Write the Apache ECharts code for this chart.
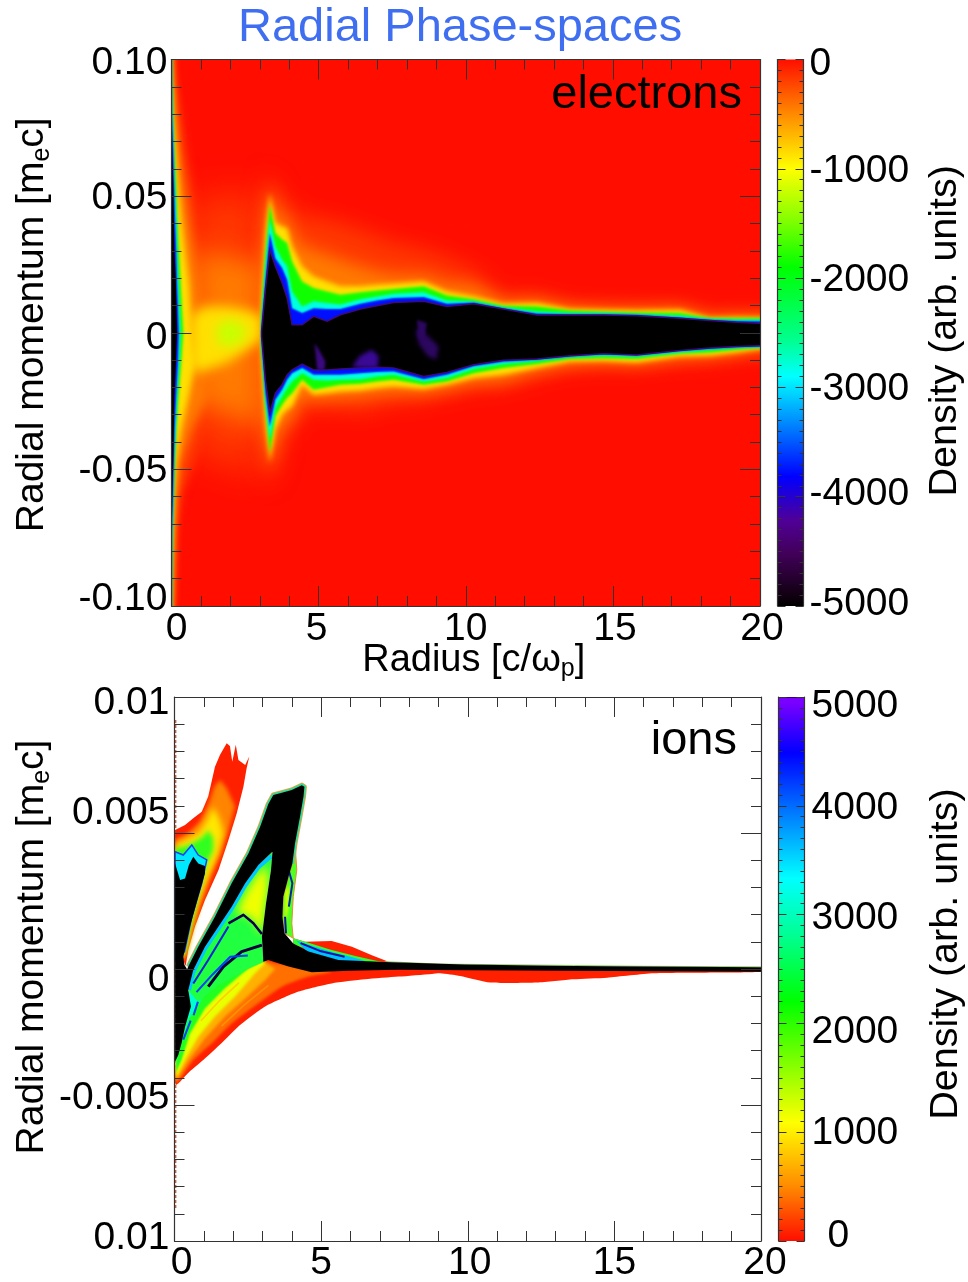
<!DOCTYPE html>
<html><head><meta charset="utf-8">
<style>html,body{margin:0;padding:0;background:#fff}#c{width:968px;height:1282px}</style>
<script src="https://cdn.jsdelivr.net/npm/echarts@6/dist/echarts.min.js"></script>
</head><body><div id="c"></div>
<script>
// ---------- Electrons: contours of density ----------
const rBody=[3.06,3.19,3.34,3.53,3.76,3.93,4.10,4.44,4.83,5.29,5.74,6.42,6.98,7.55,8.57,9.36,10.27,11.28,12.42,13.55,14.68,15.81,17.28,18.3,19.21,20];
const up200=[.0426,.0524,.0609,.0512,.0512,.0487,.0463,.0426,.0426,.0414,.0402,.0377,.0353,.0328,.0304,.0273,.0231,.0133,.0139,.0099,.0096,.0094,.0096,.0062,.0066,.0065];
const up500=[.0280,.0426,.0542,.0463,.0426,.0426,.0377,.0316,.0304,.0286,.0267,.0243,.0225,.0212,.0212,.0182,.0176,.0115,.0121,.0094,.0089,.0087,.0090,.0057,.0062,.0060];
const up1000=[.0109,.0353,.0512,.0402,.0389,.0383,.0316,.0243,.0206,.0188,.0170,.0170,.0176,.0179,.0188,.0151,.0133,.0106,.0109,.0087,.0084,.0082,.0084,.0055,.0057,.0056];
const up2000=[.0072,.0292,.0469,.0365,.0341,.0328,.0261,.0188,.0164,.0151,.0139,.0148,.0155,.0160,.0170,.0136,.0123,.0099,.0096,.0081,.0077,.0074,.0072,.0053,.0053,.0053];
const up3000=[.0042,.0243,.0414,.0316,.0267,.0243,.0151,.0096,.0115,.0109,.0103,.0123,.0133,.0143,.0148,.0118,.0115,.0093,.0078,.0072,.0072,.0068,.0062,.0050,.0048,.0048];
const up4000=[.0023,.0194,.0365,.0273,.0237,.0194,.0090,.0072,.0090,.0087,.0087,.0106,.0118,.0127,.0131,.0106,.0111,.0090,.0070,.0068,.0068,.0066,.0056,.0048,.0043,.0042];
const up5000=[.0005,.0158,.0304,.0243,.0182,.0127,.0029,.0029,.0060,.0042,.0066,.0087,.0099,.0111,.0115,.0096,.0106,.0087,.0065,.0065,.0065,.0062,.0053,.0045,.0038,.0035];
const dn200=[-.0453,-.0502,-.0563,-.0502,-.0404,-.0380,-.0368,-.0282,-.0282,-.0282,-.0282,-.0294,-.0276,-.0258,-.0252,-.0227,-.0203,-.0197,-.0160,-.0129,-.0121,-.0123,-.0103,-.0096,-.0082,-.0065];
const dn500=[-.0233,-.0392,-.0508,-.0416,-.0343,-.0331,-.0319,-.0233,-.0245,-.0243,-.0239,-.0236,-.0227,-.0221,-.0221,-.0209,-.0184,-.0178,-.0142,-.0117,-.0111,-.0115,-.0094,-.0089,-.0077,-.0062];
const dn1000=[-.0093,-.0319,-.0477,-.0355,-.0300,-.0282,-.0270,-.0190,-.0227,-.0221,-.0215,-.0211,-.0203,-.0197,-.0206,-.0190,-.0166,-.0154,-.0129,-.0105,-.0103,-.0109,-.0087,-.0084,-.0072,-.0060];
const dn2000=[-.0068,-.0276,-.0441,-.0306,-.0264,-.0239,-.0221,-.0172,-.0209,-.0199,-.0190,-.0187,-.0178,-.0172,-.0190,-.0178,-.0148,-.0129,-.0114,-.0096,-.0093,-.0096,-.0077,-.0072,-.0062,-.0055];
const dn3000=[-.0050,-.0252,-.0392,-.0276,-.0233,-.0203,-.0178,-.0148,-.0172,-.0175,-.0172,-.0170,-.0160,-.0154,-.0178,-.0166,-.0133,-.0114,-.0103,-.0089,-.0084,-.0087,-.0071,-.0062,-.0055,-.0053];
const dn4000=[-.0032,-.0221,-.0343,-.0245,-.0209,-.0172,-.0148,-.0129,-.0154,-.0154,-.0154,-.0148,-.0144,-.0142,-.0170,-.0154,-.0123,-.0106,-.0099,-.0087,-.0079,-.0083,-.0067,-.0059,-.0053,-.0050];
const dn5000=[-.0013,-.0172,-.0294,-.0221,-.0190,-.0154,-.0136,-.0115,-.0136,-.0136,-.0133,-.0129,-.0126,-.0129,-.0160,-.0145,-.0117,-.0101,-.0096,-.0084,-.0077,-.0081,-.0065,-.0056,-.0050,-.0048];
// wall at r = 0: radius reached by each density level, per momentum
const wallP=[.1,.0915,.0792,.067,.0548,.0426,.0304,.0182,0,-.0111,-.0233,-.0355,-.0477,-.06,-.0722,-.0844,-.0966,-.1];
const wall200=[0,.10,.31,.48,.70,.87,1.1,1.3,1.5,1.5,1.4,1.1,.76,.31,.14,.08,.03,0];
const wall500=[0,.06,.15,.26,.42,.59,.76,.95,1.1,1.2,1.2,.7,.31,.16,.08,.05,.02,0];
const wall1000=[0,.02,.06,.15,.23,.33,.46,.60,.70,.81,.59,.33,.17,.08,.05,.02,.01,0];
const wall2000=[0,.02,.05,.09,.15,.19,.25,.31,.40,.33,.24,.16,.11,.07,.03,.02,0,0];
const wall3000=[0,.01,.03,.07,.11,.16,.19,.24,.31,.27,.19,.14,.09,.06,.03,.01,0,0];
const wall4000=[0,.01,.02,.06,.09,.12,.16,.19,.25,.22,.16,.11,.08,.05,.02,.01,0,0];
const wall5000=[0,0,.01,.03,.06,.08,.10,.15,.19,.15,.10,.08,.06,.03,.01,.01,0,0];
// central glow between the wall and the dense body
const centre200=[[.65,.0475],[1.32,.0499],[2.12,.0499],[3.1,.0512],[3.1,-.0527],[1.89,-.0477],[.98,-.0453],[.65,-.0416]];
const centre500=[[.87,.0304],[1.89,.028],[3.1,.0256],[3.1,-.0355],[1.89,-.0295],[.76,-.0258]];
const centre1000=[[.65,.006],[1.1,.0096],[1.89,.0096],[2.57,.0084],[3.08,.006],[3.08,-.0026],[1.89,-.0111],[.87,-.0148],[.65,-.0111]];
const centre1300=[[1.55,.003],[2.0,.0048],[2.46,.003],[2.5,-.0026],[2.0,-.0052],[1.55,-.0038]];
// sparse purple patches inside the black body
const patchA=[[4.86,-.0038],[5.0,-.006],[5.23,-.0105],[5.2,-.0136],[4.95,-.0136],[4.9,-.008]];
const patchB=[[6.13,-.0125],[6.4,-.0085],[6.8,-.0062],[7.04,-.0085],[7.0,-.0129],[6.5,-.0129]];
const patchC=[[8.29,.0011],[8.5,.0011],[9.08,-.005],[9.0,-.0099],[8.7,-.0085],[8.4,-.004]];
const patchD=[[8.34,.0048],[8.68,.0035],[8.6,-.0012],[8.4,-.0026]];
// ---------- Ions: outlines ----------
const plumeRed=[[.02,.00511],[.36,.00529],[.64,.00554],[.93,.00578],[1.15,.00634],[1.38,.00744],[1.55,.00787],[1.78,.0083],[1.89,.0082],[1.97,.00762],[2.09,.00824],[2.18,.00768],[2.41,.0075],[2.55,.00781],[2.46,.00738],[2.35,.0067],[2.12,.00572],[1.84,.00474],[1.5,.00364],[1.04,.00254],[.7,.00156],[.47,.0007],[.38,.00011],[.3,.00033],[.02,.00033]];
const plumeOrange=[[.02,.00474],[.47,.00499],[.87,.00542],[1.15,.00603],[1.36,.0067],[1.55,.00695],[1.78,.00664],[2.06,.00597],[1.84,.00511],[1.55,.00425],[1.21,.00339],[.87,.00241],[.64,.00156],[.41,.00058],[.3,.00033],[.02,.00033]];
const plumeYellow=[[.02,.00456],[.24,.00468],[.81,.00499],[1.1,.00548],[1.32,.00597],[1.55,.00548],[1.67,.00499],[1.5,.00425],[1.15,.00339],[.81,.00241],[.59,.00156],[.38,.00058],[.02,.00033]];
const plumeGreen=[[.02,.00444],[.36,.0045],[.7,.00468],[.98,.00487],[1.15,.00511],[1.32,.0048],[1.32,.00437],[1.1,.00388],[.81,.00278],[.53,.00156],[.34,.00058],[.02,.00033]];
const plumeCyan=[[.02,.00431],[.3,.00419],[.59,.00456],[.81,.00419],[1.1,.00401],[.93,.00315],[.59,.00192],[.34,.00064],[.02,.00033]];
const fanRed=[[.05,-.00426],[.5,-.00379],[.98,-.00335],[1.6,-.00273],[2.17,-.00212],[3.09,-.00138],[4.23,-.00083],[5.36,-.00053],[6.5,-.00038],[7.64,-.00028],[8.78,-.00018],[9.06,-.00016],[9.74,-.00026],[10.77,-.0005],[12.36,-.0005],[13.6,-.00038],[14.75,-.00032],[16.34,-.00016],[18.6,-.00013],[20,-.0001],[20,.00002],[8,.00006],[5,.00005],[3.5,.0003],[3,.00035],[.6,-.00077],[.05,-.0035]];
const fanOrange=[[.06,-.0042],[.64,-.00335],[1.27,-.00273],[1.95,-.002],[2.86,-.00126],[3.66,-.00065],[4.57,-.00028],[5.36,-.0001],[5,0],[3.5,.0002],[3,.0003],[.5,-.001],[.05,-.0035]];
const fanGold=[[.05,-.0041],[.49,-.00335],[1.04,-.00255],[1.72,-.00175],[2.41,-.00108],[3.09,-.0004],[3.43,0],[3,.0003],[.5,-.001],[.05,-.0035]];
const fanYellow=[[.05,-.004],[.36,-.00335],[.81,-.00249],[1.38,-.00175],[2.06,-.00102],[2.75,-.00016],[3.09,.00021],[3,.0003],[.5,-.001],[.05,-.003]];
const fanGreen=[[.05,-.0038],[.24,-.00335],[.53,-.00237],[1.04,-.00145],[1.72,-.00071],[2.52,.00002],[3.09,.00039],[3,.0004],[.5,-.0008],[.05,-.003]];
const fanCyan=[[.05,-.0034],[.19,-.00279],[.47,-.00187],[.87,-.0012],[1.27,-.00053],[1.95,.00021],[2.9,.0006],[.5,-.0008],[.05,-.003]];
const fanStreakA=[[1.6,-.0021],[2.4,-.0013],[3.2,-.0006]];
const fanStreakB=[[.9,-.0019],[1.5,-.0012],[2.2,-.0005]];
const fanStreakC=[[.3,-.0026],[.55,-.0019]];
const fanStreakD=[[.65,-.0017],[.8,-.0012]];
const fanStreakE=[[1.15,-.00047],[1.85,.00027]];
const bumpRed=[[4.05,.00113],[4.45,.001],[5.36,.00103],[6.05,.00082],[6.73,.00051],[7.3,.00027],[5,.0002],[4.05,.0009]];
const bumpGreen=[[4.05,.00113],[4.6,.00096],[5.3,.00072],[6.2,.00047],[7.0,.00028],[7.2,.00024],[6,.0002],[4.05,.0009]];
const bumpCyan=[[4.15,.00105],[4.7,.00085],[5.4,.00062],[6.0,.00045],[6.5,.0003],[5.5,.00025],[4.6,.00055]];
const bumpStreak=[[4.3,.00095],[5,.00065],[5.8,.00045]];
const bandTopLine=[[7.2,.00027],[9.06,.00018],[11,.00016],[13.6,.00013],[16,.0001],[20,.00008]];
const hollowGreen=[[.47,-.00077],[.64,-.00004],[1.04,.00082],[1.5,.00156],[1.95,.00229],[2.41,.00315],[2.86,.00382],[3.34,.00431],[3.29,.00364],[3.12,.00241],[2.98,.00119],[3.03,.00027],[3.2,.00033],[2.5,0],[1.5,-.0006],[.8,-.0012]];
const hollowYellow=[[3.15,.00385],[3.2,.003],[3.06,.00192],[2.98,.00125],[2.6,.00192],[2.1,.00205],[2.4,.00278],[2.8,.00345]];
const armInnerLine=[[.5,-.00077],[.64,-.00012],[1.04,.00074],[1.5,.00148],[1.95,.00221],[2.41,.00307],[2.86,.00374],[3.3,.00415]];
const curveA=[[1.84,.00168],[2.35,.00199],[2.69,.00168],[2.98,.00129]];
const curveB=[[1.15,-.00065],[1.67,.00009],[2.29,.00064],[2.98,.00088]];
const curveC=[[.64,-.00053],[1.15,.00033],[1.84,.00156]];
const curveD=[[.75,-.00085],[1.3,-.0002],[1.9,.00045],[2.5,.0005]];
const rightFill=[[4.13,.00428],[4.17,.00364],[4.05,.00266],[4,.00168],[4.05,.00113],[3.75,.00131],[3.68,.00192],[3.71,.00266],[3.89,.0034],[4.02,.00388]];
const rightYellow=[[3.78,.00285],[3.92,.0031],[3.86,.00215],[3.76,.00165]];
const rightCurveA=[[3.89,.00364],[4.02,.00315],[3.9,.00229]];
const rightCurveB=[[3.77,.00192],[3.8,.00131]];
const ridgeOuter=[[.47,.00009],[.81,.00082],[1.38,.00192],[1.95,.00315],[2.52,.00425],[2.92,.00523],[3.2,.00607],[3.37,.0064],[3.66,.00648],[4,.00658],[4.34,.00676],[4.43,.0067],[4.4,.00634],[4.28,.0056],[4.11,.00462],[4.02,.00388]];
const blackHead=[[.02,.00388],[.19,.00327],[.36,.00333],[.49,.00382],[.64,.00413],[.81,.00388],[1.04,.00379],[1.04,.00352],[.81,.00266],[.53,.00156],[.3,.00045],[.34,.00015],[.43,-.00001]];
const blackPillarBand=[[3.89,.0034],[3.71,.00266],[3.68,.00192],[3.75,.00131],[4.05,.00094],[4.57,.00064],[5.59,.00033],[7.18,.00026],[9.91,.00017],[13.6,.00011],[20,.00006],[20,-.0001],[9.91,-.00005],[7.64,-.00003],[5.93,-.00006],[4.68,-.00012],[3.89,.00009],[3.54,.00021],[3.2,.00033],[3.03,.00027],[2.98,.00119],[3.12,.00241],[3.29,.00364],[3.34,.00431]];
const blackColumn=[[2.86,.00382],[2.41,.00315],[1.95,.00229],[1.5,.00156],[1.04,.00082],[.64,-.00004],[.47,-.00077],[.56,-.00138],[.36,-.00212],[.24,-.00273],[.13,-.00316],[.02,-.00341]];
const wallTrace=[[.03,.00915],[.03,-.00886]];
// ---------- Colour bars and tick labels ----------
const elecBarValues=[0,-500,-1000,-1450,-1900,-2570,-2900,-3818,-4214,-4516,-4910,-5000];
const elecBarColors=['#ff0e00','#ff8a00','#ffff00','#88ff00','#00ff00','#00ff90','#00ffff','#0000ff','#500098','#42005a','#100010','#000000'];
const ionBarValues=[0,500,1086,1600,2200,2800,3333,4484,4950,4990,5000];
const ionBarColors=['#ff0e00','#ff8a00','#ffff00','#88ff00','#00ff00','#00ff90','#00ffff','#0000ff','#7a00ff','#7a00ff','#000000'];
const radiusLabels=['0','5','10','15','20'];
const elecPLabels=['-0.10','-0.05','0','0.05','0.10'];
const ionPLabels=['0.01','-0.005','0','0.005','0.01'];
const elecBarLabels=['-5000','-4000','-3000','-2000','-1000','0'];
const ionBarLabels=['0','1000','2000','3000','4000','5000'];

const FONT='"Liberation Sans",Helvetica,Arial,sans-serif';
const INK='#000', AX='#333';
const zip=(xs,ys)=>xs.map((x,i)=>[x,ys[i]]);
// shapes run past the frame (clipped there) so soft edges do not fade at the border
const body=(u,d)=>zip(rBody,u).concat([[21,u[u.length-1]],[21,d[d.length-1]]],zip(rBody,d).reverse());
const wall=(rs)=>[[-1,.13],[0,.13]].concat(zip(rs,wallP),[[0,-.13],[-1,-.13]]);
const C={c200:'#ff3a00',c500:'#ff7a00',c1000:'#ffe000',c1300:'#c8ff00',c2000:'#10ff00',c3000:'#00ffe0',c4000:'#0010ff'};
const elecLayers=[
 {p:wall(wall200),fill:C.c200,soft:10},{p:centre200,fill:C.c200,soft:36},{p:body(up200,dn200),fill:C.c200,soft:22},
 {p:wall(wall500),fill:C.c500,soft:8},{p:centre500,fill:C.c500,soft:26},{p:body(up500,dn500),fill:C.c500,soft:16},
 {p:wall(wall1000),fill:C.c1000,soft:6},{p:centre1000,fill:C.c1000,soft:12},{p:body(up1000,dn1000),fill:C.c1000,soft:5},
 {p:centre1300,fill:C.c1300,soft:12},
 {p:wall(wall2000),fill:C.c2000,soft:3},{p:body(up2000,dn2000),fill:C.c2000,soft:3},
 {p:wall(wall3000),fill:C.c3000,soft:2.5},{p:body(up3000,dn3000),fill:C.c3000,soft:2.5},
 {p:wall(wall4000),fill:C.c4000,soft:2},{p:body(up4000,dn4000),fill:C.c4000,soft:2},
 {p:wall(wall5000),fill:'#000'},{p:body(up5000,dn5000),fill:'#000',stroke:'#3c0a78',lw:1.5},
 {p:patchA,fill:'#3c0a80',soft:3},{p:patchB,fill:'#3a0a96',soft:4},{p:patchC,fill:'#2c0860',soft:4},{p:patchD,fill:'#2c0860',soft:3}
];
const ionLayers=[
 {p:wallTrace,line:'#d0603a',lw:2,dash:[3,2]},
 {p:plumeRed,fill:'#ff2000'},{p:plumeOrange,fill:'#ff8400',soft:4},{p:plumeYellow,fill:'#ffe800',soft:6},{p:plumeGreen,fill:'#30ff20',soft:5},{p:plumeCyan,fill:'#00e8ff',stroke:'#1040ff',lw:1.5},
 {p:fanRed,fill:'#ff2000',smooth:.2},{p:fanOrange,fill:'#ff7000',soft:3,smooth:.2},{p:fanGold,fill:'#ffb000',soft:3},{p:fanYellow,fill:'#eaff00',soft:3},{p:fanGreen,fill:'#20ff20',soft:2},{p:fanCyan,fill:'#00ffd0',soft:1.5},
 {p:fanStreakA,line:'#ff9000',lw:1.5},{p:fanStreakB,line:'#ffd000',lw:1.5},{p:fanStreakC,line:'#0040ff',lw:2},{p:fanStreakD,line:'#0040ff',lw:2},{p:fanStreakE,line:'#0020d0',lw:2},
 {p:bumpRed,fill:'#ff2000'},{p:bumpGreen,fill:'#30ff30'},{p:bumpCyan,fill:'#00c0ff'},{p:bumpStreak,line:'#0010a0',lw:2},{p:bandTopLine,line:'#90d060',lw:1},
 {p:hollowGreen,fill:'#20ff40'},{p:hollowYellow,fill:'#f0ff00',soft:8},{p:armInnerLine,line:'#00c8ff',lw:4},
 {p:curveA,line:'#000050',lw:2.5},{p:curveB,line:'#000040',lw:3},{p:curveC,line:'#0020e0',lw:2},{p:curveD,line:'#0040ff',lw:2},
 {p:rightFill,fill:'#50ff20',stroke:'#e09030',lw:1},{p:rightYellow,fill:'#f0ff00',soft:3},{p:rightCurveA,line:'#0020b0',lw:2},{p:rightCurveB,line:'#0010a0',lw:2},
 {p:ridgeOuter,line:'#e8a040',lw:5},{p:ridgeOuter,line:'#20e0a0',lw:3},
 {p:blackHead.concat(ridgeOuter,blackPillarBand,blackColumn),fill:'#000'}
];
const OFF=3000; // a soft layer is painted as its own blurred shadow, the shape itself sits off-canvas
function layerRender(layers){return function(params,api){
  const L=layers[params.dataIndex];
  let pts=L.p.map(q=>api.coord(q));
  const style={fill:L.fill||'none'};
  if(L.line){style.stroke=L.line;style.lineWidth=L.lw;style.lineJoin='round';if(L.dash)style.lineDash=L.dash;style.fill=null;return {type:'polyline',shape:{points:pts},style};}
  if(L.stroke){style.stroke=L.stroke;style.lineWidth=L.lw;}
  if(L.soft){pts=pts.map(q=>[q[0]-OFF,q[1]]);style.shadowBlur=L.soft;style.shadowColor=L.fill;style.shadowOffsetX=OFF;}
  return {type:'polygon',shape:{points:pts,smooth:L.smooth||0},style};
};}
function barRender(values,colors){const lo=Math.min(...values),hi=Math.max(...values);
 return function(params,api){
  const a=api.coord([0,hi]),b=api.coord([1,lo]);
  const stops=values.map((v,i)=>({offset:(hi-v)/(hi-lo),color:colors[i]})).sort((m,n)=>m.offset-n.offset);
  return {type:'rect',shape:{x:a[0],y:a[1],width:b[0]-a[0],height:b[1]-a[1]},style:{fill:{type:'linear',x:0,y:0,x2:0,y2:1,colorStops:stops}}};
 };}
// labels with a per-label nudge, since the source placed them by hand
function nudged(labels,min,step,pads){
  const rich={};labels.forEach((l,i)=>{rich['n'+i]={fontFamily:FONT,fontSize:39,color:INK,padding:pads[i]};});
  return {rich,formatter:v=>{const i=Math.round((v-min)/step);return '{n'+i+'|'+labels[i]+'}';}};
}
const line={show:true,onZero:false,lineStyle:{color:AX,width:1.2}};
const tick=(len,c,w)=>({show:true,inside:true,length:len,lineStyle:{color:c||AX,width:w||1}});
const minor=(n,len,c,w)=>({show:true,splitNumber:n,length:len,lineStyle:{color:c||AX,width:w||1}});
function xA(g,pos,labels,pads,margin){return {type:'value',gridIndex:g,position:pos,min:0,max:20,interval:5,zlevel:1,z:10,axisLine:line,axisTick:tick(20),minorTick:minor(5,10),splitLine:{show:false},
  axisLabel:labels?Object.assign({show:true,margin},nudged(labels,0,5,pads)):{show:false}};}
function yA(g,pos,min,max,step,extra){return Object.assign({type:'value',gridIndex:g,position:pos,min,max,interval:step,zlevel:1,z:10,nameMoveOverlap:false,axisLine:line,axisTick:tick(20),minorTick:minor(5,10),splitLine:{show:false},axisLabel:{show:false}},extra||{});}
const nameRich={a:{fontFamily:FONT,fontSize:39,color:INK,lineHeight:44},sub:{fontFamily:FONT,fontSize:25,color:INK,lineHeight:44,verticalAlign:'bottom',padding:[18,0,0,0]}};
const barTicks={axisTick:tick(8),minorTick:minor(10,4)};
const opt={
 animation:false,backgroundColor:'#fff',
 title:{text:'Radial Phase-spaces',left:233,top:0,textStyle:{fontFamily:FONT,fontSize:47,fontWeight:'normal',color:'#3f6ff0'}},
 grid:[
  {left:171.5,top:59.5,width:588.5,height:546.5,show:true,backgroundColor:'#ff0e00',borderWidth:0,outerBoundsMode:'none',z:-1},
  {left:174.5,top:697,width:586.5,height:544,show:true,backgroundColor:'#fff',borderWidth:0,outerBoundsMode:'none',z:-1},
  {left:777.5,top:59.5,width:26,height:546.5,outerBoundsMode:'none'},
  {left:778.5,top:697,width:26,height:544,outerBoundsMode:'none'}
 ],
 xAxis:[
  Object.assign(xA(0,'bottom',radiusLabels,[[0,0,0,10],[0,4,0,0],0,[0,0,0,4],[0,0,0,4]],4),{name:'Radius [c/{w|ω}{sub|p}]',nameLocation:'middle',nameGap:33,nameMoveOverlap:false,nameTextStyle:{fontFamily:FONT,fontSize:38,color:INK,padding:[0,0,0,16],rich:{w:{fontFamily:FONT,fontSize:38,color:INK},sub:{fontFamily:FONT,fontSize:25,color:INK,verticalAlign:'bottom',padding:[18,0,0,0]}}}}),
  xA(0,'top'),
  xA(1,'bottom',radiusLabels,[[0,0,0,14],[0,0,0,0],[0,0,0,4],[0,0,0,0],[0,0,0,8]],3),
  xA(1,'top'),
  {type:'value',gridIndex:2,min:0,max:1,show:false},
  {type:'value',gridIndex:3,min:0,max:1,show:false}
 ],
 yAxis:[
  yA(0,'left',-.1,.1,.05,{name:'{a|Radial momentum [m}{sub|e}{a|c]}',nameLocation:'middle',nameGap:117,nameRotate:90,nameTextStyle:{rich:nameRich,padding:[0,0,0,16]},
    axisLabel:Object.assign({show:true,margin:4},nudged(elecPLabels,-.1,.05,[[0,0,14,0],[4,0,0,0],[10,0,0,0],[4,0,0,0],[8,0,0,0]]))}),
  yA(0,'right',-.1,.1,.05),
  yA(1,'left',-.01,.01,.005,{name:'{a|Radial momentum [m}{sub|e}{a|c]}',nameLocation:'middle',nameGap:120,nameRotate:90,nameTextStyle:{rich:nameRich,padding:[0,0,0,44]},
    axisLabel:Object.assign({show:true,margin:5},nudged(ionPLabels,-.01,.005,[[0,0,6,0],[0,0,14,0],[22,0,0,0],[0,0,40,0],[12,0,0,0]]))}),
  yA(1,'right',-.01,.01,.005),
  Object.assign(yA(2,'left',-5000,0,1000),barTicks),
  Object.assign(yA(2,'right',-5000,0,1000),barTicks,{name:'Density (arb. units)',nameLocation:'middle',nameGap:122,nameRotate:90,nameTextStyle:{fontFamily:FONT,fontSize:39.5,color:INK,padding:[0,0,0,4]},
    axisLabel:Object.assign({show:true,margin:6},nudged(elecBarLabels,-5000,1000,[[0,0,4,0],[0,0,4,0],[4,0,0,0],[4,0,0,0],[4,0,0,0],[10,0,0,0]]))}),
  Object.assign(yA(3,'left',0,5000,1000),barTicks),
  Object.assign(yA(3,'right',0,5000,1000),barTicks,{name:'Density (arb. units)',nameLocation:'middle',nameGap:122,nameRotate:90,nameTextStyle:{fontFamily:FONT,fontSize:39.5,color:INK,padding:[0,0,0,30]},
    axisLabel:Object.assign({show:true,margin:7},nudged(ionBarLabels,0,1000,[[0,0,10,16],[2,0,0,0],[18,0,0,0],[8,0,0,0],[4,0,0,0],[18,0,0,0]]))})
 ],
 graphic:[
  {type:'text',x:742,y:95,zlevel:1,style:{text:'electrons',fontFamily:FONT,fontSize:47,fill:INK,textAlign:'right',textVerticalAlign:'middle'}},
  {type:'text',x:737,y:741,zlevel:1,style:{text:'ions',fontFamily:FONT,fontSize:47,fill:INK,textAlign:'right',textVerticalAlign:'middle'}}
 ],
 series:[
  {type:'custom',name:'electrons',xAxisIndex:0,yAxisIndex:0,clip:true,silent:true,z:1,renderItem:layerRender(elecLayers),data:elecLayers.map((_,i)=>[i])},
  {type:'custom',name:'ions',xAxisIndex:2,yAxisIndex:2,clip:true,silent:true,z:1,renderItem:layerRender(ionLayers),data:ionLayers.map((_,i)=>[i])},
  {type:'custom',name:'electron density scale',xAxisIndex:4,yAxisIndex:4,silent:true,z:1,renderItem:barRender(elecBarValues,elecBarColors),data:[[0]]},
  {type:'custom',name:'ion density scale',xAxisIndex:5,yAxisIndex:6,silent:true,z:1,renderItem:barRender(ionBarValues,ionBarColors),data:[[0]]}
 ]
};
const chart=echarts.init(document.getElementById('c'),null,{renderer:'canvas',width:968,height:1282});
chart.setOption(opt);
</script></body></html>
